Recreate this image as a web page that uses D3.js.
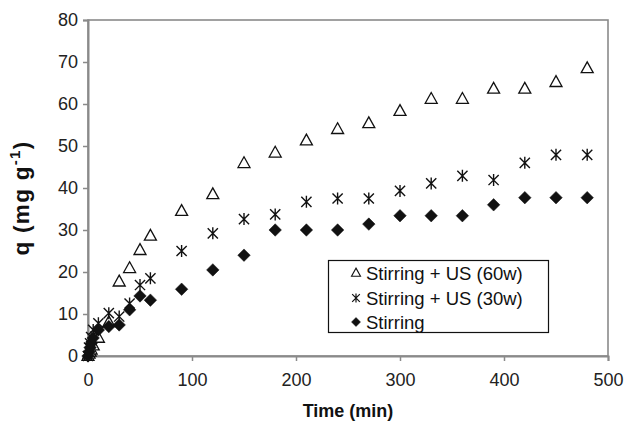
<!DOCTYPE html>
<html><head><meta charset="utf-8">
<script src="https://cdn.jsdelivr.net/npm/d3@7"></script>
<style>body{margin:0;background:#fff}svg{display:block}</style>
</head><body>
<script>
const time = [0, 1, 2, 3, 5, 10, 20, 30, 40, 50, 60, 90, 120, 150, 180, 210, 240, 270, 300, 330, 360, 390, 420, 450, 480];
const us60 = [0, 0.5, 1, 1.5, 2.5, 4.3, 8, 17.7, 20.9, 25.2, 28.6, 34.5, 38.5, 45.9, 48.4, 51.3, 54, 55.4, 58.3, 61.2, 61.2, 63.6, 63.6, 65.2, 68.5];
const us30 = [0, 2, 3, 4.5, 6.2, 7.8, 10.2, 9.4, 12.5, 16.9, 18.5, 25, 29.2, 32.6, 33.7, 36.7, 37.5, 37.5, 39.3, 41.1, 42.9, 41.9, 46, 47.9, 47.9];
const stirring = [0, 1, 2, 3, 4.3, 6.2, 7, 7.4, 11, 14.3, 13.3, 15.9, 20.5, 24, 30, 30, 30, 31.4, 33.4, 33.4, 33.4, 36, 37.7, 37.7, 37.7];
const seriesNames = ["Stirring + US (60w)", "Stirring + US (30w)", "Stirring"];
const xTicks = [0, 100, 200, 300, 400, 500];
const yTicks = [0, 10, 20, 30, 40, 50, 60, 70, 80];

const W = 624, H = 421;
const m = {l: 88, r: 608, t: 20, b: 356};
const svg = d3.select("body").append("svg").attr("width", W).attr("height", H);
const x = d3.scaleLinear().domain([0, 500]).range([m.l, m.r]);
const y = d3.scaleLinear().domain([0, 80]).range([m.b, m.t]);
const font = "'Liberation Sans', Arial, sans-serif";
const axisCol = "#8a8a8a";

// frame
svg.append("rect").attr("x", m.l).attr("y", m.t).attr("width", m.r - m.l).attr("height", m.b - m.t)
  .attr("fill", "none").attr("stroke", axisCol).attr("stroke-width", 1.6);

const gx = svg.append("g").attr("transform", `translate(0,${m.b})`)
  .call(d3.axisBottom(x).tickValues(xTicks).tickSize(5).tickPadding(12));
const gy = svg.append("g").attr("transform", `translate(${m.l},0)`)
  .call(d3.axisLeft(y).tickValues(yTicks).tickSize(5).tickPadding(5));
[gx, gy].forEach(g => {
  g.select(".domain").attr("stroke", axisCol).attr("stroke-width", 2);
  g.selectAll(".tick line").attr("stroke", axisCol).attr("stroke-width", 1.5);
  g.selectAll(".tick text").attr("font-family", font).attr("font-size", 18).attr("fill", "#222");
});

// marker paths
function triPath(s) { const h = s * 0.9; return `M0,${-h*0.6}L${s/2},${h*0.4}L${-s/2},${h*0.4}Z`; }
function diaPath(s) { const r = s / 2; return `M0,${-r}L${r},0L0,${r}L${-r},0Z`; }
function starPath(s) { const r = s / 2; const d = r * 0.85;
  return `M0,${-r}L0,${r}M${-d},${-d}L${d},${d}M${-d},${d}L${d},${-d}`; }

const pts = (arr) => time.map((t, i) => ({t, v: arr[i]}));

svg.append("g").selectAll("path").data(pts(us60)).join("path")
  .attr("transform", d => `translate(${x(d.t)},${y(d.v)})`)
  .attr("d", triPath(12)).attr("fill", "#fff").attr("stroke", "#111").attr("stroke-width", 1.3);
svg.append("g").selectAll("path").data(pts(us30)).join("path")
  .attr("transform", d => `translate(${x(d.t)},${y(d.v)})`)
  .attr("d", starPath(12)).attr("fill", "none").attr("stroke", "#111").attr("stroke-width", 1.4);
svg.append("g").selectAll("path").data(pts(stirring)).join("path")
  .attr("transform", d => `translate(${x(d.t)},${y(d.v)})`)
  .attr("d", diaPath(12.5)).attr("fill", "#111").attr("stroke", "#111").attr("stroke-width", 0.5);

// legend
const lg = svg.append("g");
lg.append("rect").attr("x", 328.5).attr("y", 260.5).attr("width", 220).attr("height", 72)
  .attr("fill", "#fff").attr("stroke", "#111").attr("stroke-width", 1.2);
const rowsY = [273, 298, 322];
const legMarks = [
  {d: triPath(9), fill: "#fff", stroke: "#111", sw: 1.1},
  {d: starPath(9), fill: "none", stroke: "#111", sw: 1.2},
  {d: diaPath(9), fill: "#111", stroke: "#111", sw: 0.5}
];
seriesNames.forEach((n, i) => {
  lg.append("path").attr("transform", `translate(356,${rowsY[i]})`).attr("d", legMarks[i].d)
    .attr("fill", legMarks[i].fill).attr("stroke", legMarks[i].stroke).attr("stroke-width", legMarks[i].sw);
  lg.append("text").attr("x", 366).attr("y", rowsY[i]).attr("dy", "0.36em")
    .attr("font-family", font).attr("font-size", 18.5).attr("fill", "#111").text(n);
});

// axis titles
svg.append("text").attr("x", (m.l + m.r) / 2).attr("y", 417).attr("text-anchor", "middle")
  .attr("font-family", font).attr("font-size", 18).attr("font-weight", "bold").attr("fill", "#111").text("Time (min)");
const yt = svg.append("text").attr("transform", "translate(29,198) rotate(-90)").attr("text-anchor", "middle")
  .attr("font-family", font).attr("font-size", 22.5).attr("font-weight", "bold").attr("fill", "#111")
  .attr("letter-spacing", 1.3);
yt.append("tspan").text("q (mg g");
yt.append("tspan").attr("font-size", 15).attr("dy", -9).text("-1");
yt.append("tspan").attr("dy", 9).text(")");
</script>
</body></html>
